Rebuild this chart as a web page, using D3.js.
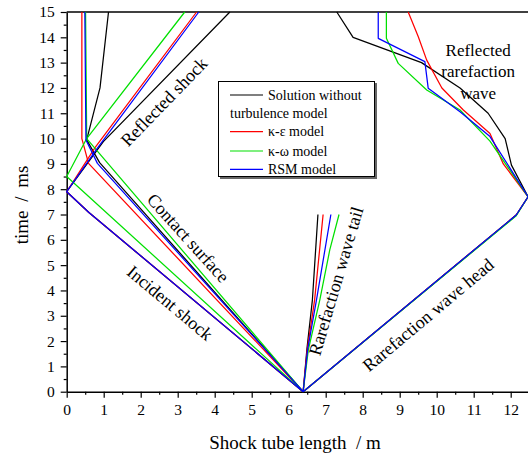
<!DOCTYPE html>
<html>
<head>
<meta charset="utf-8">
<script src="https://cdn.jsdelivr.net/npm/d3@7/dist/d3.min.js"></script>
<style>
  html, body { margin: 0; padding: 0; background: #fff; }
  svg { display: block; }
  svg text { font-family: "Liberation Serif", "Times New Roman", "DejaVu Serif", serif; fill: #000; }
</style>
</head>
<body>
<svg id="chart" width="528" height="455"></svg>
<script>
// Wave diagram (x–t) of a shock tube: position in m, time in ms.
const seriesNames = ["Solution without turbulence model", "κ-ε model", "κ-ω model", "RSM model"];
const seriesColors = ["#000000", "#ff0000", "#00e000", "#0000ff"];

// Incident shock followed by the reflected shock, [x, t]
const shockNone = [[6.39, 0], [0.6, 7.08], [0, 7.9], [0.99, 9.88], [4.41, 15]];
const shockKE   = [[6.39, 0], [0.6, 7.08], [0, 7.9], [0.77, 9.65], [3.51, 15]];
const shockKW   = [[6.39, 0], [0, 8.5], [0.54, 10.0], [3.19, 15]];
const shockRSM  = [[6.39, 0], [0.6, 7.08], [0, 7.9], [0.83, 9.62], [3.57, 15]];

// Contact surface
const contactNone = [[6.39, 0], [0.89, 9.05], [0.54, 9.95], [0.90, 12], [1.13, 15]];
const contactKE   = [[6.39, 0], [0.59, 9.02], [0.41, 10.0], [0.41, 15]];
const contactKW   = [[6.39, 0], [0.54, 10.0], [0.51, 15]];
const contactRSM  = [[6.39, 0], [0.83, 9.02], [0.52, 9.94], [0.49, 15]];

// Rarefaction wave head and its reflection from the end wall
const rareNone = [[6.39, 0], [12.15, 6.98], [12.47, 7.7], [12.02, 8.95], [11.85, 10.0], [11.39, 11.0],
                  [10.63, 12.0], [9.59, 13.0], [7.74, 14.0], [7.30, 15]];
const rareKE   = [[6.39, 0], [12.15, 6.98], [12.47, 7.7], [11.80, 9.0], [11.44, 10.2], [10.72, 11.13],
                  [10.14, 12.0], [9.73, 13.1], [9.50, 14.03], [9.23, 15]];
const rareKW   = [[6.39, 0], [12.15, 6.95], [12.47, 7.7], [11.44, 9.9], [10.63, 11.13], [9.73, 11.92],
                  [8.96, 12.97], [8.64, 13.96], [8.64, 15]];
const rareRSM  = [[6.39, 0], [12.15, 6.98], [12.47, 7.7], [11.44, 10.08], [10.63, 11.06], [9.77, 11.99],
                  [9.68, 13.04], [8.42, 13.96], [8.42, 15]];

// Rarefaction wave tail
const tailNone = [[6.39, 0], [6.49, 1.65], [6.64, 3.62], [6.79, 7]];
const tailKE   = [[6.39, 0], [6.50, 1.65], [6.70, 3.62], [6.93, 7]];
const tailKW   = [[6.39, 0], [6.53, 1.65], [6.84, 3.62], [7.11, 5.6], [7.36, 7]];
const tailRSM  = [[6.39, 0], [6.51, 1.65], [6.75, 3.62], [7.14, 7]];

const xMajorTicks = d3.range(0, 13, 1);
const xMinorTicks = d3.range(0.5, 12.5, 1);
const yMajorTicks = d3.range(0, 16, 1);
const yMinorTicks = d3.range(0.5, 15, 1);

const seriesPaths = [
  [shockNone, contactNone, rareNone, tailNone],
  [shockKE, contactKE, rareKE, tailKE],
  [shockKW, contactKW, rareKW, tailKW],
  [shockRSM, contactRSM, rareRSM, tailRSM]
];

const FONT = "Liberation Serif, Times New Roman, DejaVu Serif, serif";
const svg = d3.select("#chart");
const x = d3.scaleLinear().domain([0, 12.5]).range([66.7, 529.2]);
const y = d3.scaleLinear().domain([0, 15]).range([391.7, 12]);

// Axes
const gx = svg.append("g").attr("transform", `translate(0,${y(0)})`);
gx.call(d3.axisBottom(x).tickValues(xMajorTicks).tickSize(6).tickSizeOuter(0).tickPadding(6).tickFormat(d3.format("d")));
const gxm = svg.append("g").attr("transform", `translate(0,${y(0)})`);
gxm.call(d3.axisBottom(x).tickValues(xMinorTicks).tickSize(3).tickSizeOuter(0).tickFormat(""));
gxm.select(".domain").remove();

const gy = svg.append("g").attr("transform", `translate(${x(0)},0)`);
gy.call(d3.axisLeft(y).tickValues(yMajorTicks).tickSize(6).tickSizeOuter(0).tickPadding(6).tickFormat(d3.format("d")));
const gym = svg.append("g").attr("transform", `translate(${x(0)},0)`);
gym.call(d3.axisLeft(y).tickValues(yMinorTicks).tickSize(3).tickSizeOuter(0).tickFormat(""));
gym.select(".domain").remove();

svg.selectAll("g").attr("font-family", FONT);
svg.selectAll(".domain").attr("stroke", "#000").attr("stroke-width", 1.5);
svg.selectAll(".tick line").attr("stroke", "#000").attr("stroke-width", 1.2);
svg.selectAll(".tick text").attr("font-family", FONT).attr("font-size", 15.5).attr("fill", "#000");

// Top frame
svg.append("line")
  .attr("x1", x(0)).attr("x2", x(12.5)).attr("y1", y(15)).attr("y2", y(15))
  .attr("stroke", "#000").attr("stroke-width", 1.5);

// Wave lines
const line = d3.line().x(d => x(d[0])).y(d => y(d[1]));
seriesPaths.forEach((paths, i) => {
  svg.append("g").selectAll("path").data(paths).join("path")
    .attr("d", line)
    .attr("fill", "none")
    .attr("stroke", seriesColors[i])
    .attr("stroke-width", 1.25)
    .attr("stroke-linejoin", "round");
});

// Axis titles
svg.append("text")
  .attr("x", 295).attr("y", 442)
  .attr("text-anchor", "middle").attr("dominant-baseline", "central")
  .attr("font-family", FONT).attr("font-size", 19).style("white-space", "pre")
  .text("Shock tube length  / m");
svg.append("text")
  .attr("transform", "translate(21,205) rotate(-90)")
  .attr("text-anchor", "middle").attr("dominant-baseline", "central")
  .attr("font-family", FONT).attr("font-size", 19).style("word-spacing", "4px")
  .text("time / ms");

// Wave annotations
const annotations = [
  { text: "Reflected shock", x: 2.63, t: 11.45, angle: -46 },
  { text: "Contact surface", x: 3.28, t: 6.07, angle: 48 },
  { text: "Incident shock", x: 2.79, t: 3.5, angle: 40 },
  { text: "Rarefaction wave tail", x: 7.28, t: 4.37, angle: -73.5 },
  { text: "Rarefaction wave head", x: 9.77, t: 3.03, angle: -40 }
];
annotations.forEach(a => {
  svg.append("text")
    .attr("transform", `translate(${x(a.x)},${y(a.t)}) rotate(${a.angle})`)
    .attr("text-anchor", "middle").attr("dominant-baseline", "central")
    .attr("font-family", FONT).attr("font-size", 18)
    .text(a.text);
});
["Reflected", "rarefaction", "wave"].forEach((s, i) => {
  svg.append("text")
    .attr("x", x(11.12)).attr("y", y(13.49) + i * 21.5)
    .attr("text-anchor", "middle").attr("dominant-baseline", "central")
    .attr("font-family", FONT).attr("font-size", 17)
    .text(s);
});

// Legend
const lg = svg.append("g");
lg.append("rect").attr("x", 220).attr("y", 83).attr("width", 157).attr("height", 96).attr("fill", "#666");
lg.append("rect").attr("x", 218.5).attr("y", 81.5).attr("width", 156).attr("height", 95)
  .attr("fill", "#fff").attr("stroke", "#000").attr("stroke-width", 1);
const legendRows = [95, 131.7, 151, 169.3];
seriesNames.forEach((name, i) => {
  const ly = legendRows[i];
  lg.append("line").attr("x1", 230).attr("x2", 263).attr("y1", ly).attr("y2", ly)
    .attr("stroke", seriesColors[i]).attr("stroke-width", 1.2);
  if (i === 0) {
    lg.append("text").attr("x", 268).attr("y", ly).attr("dominant-baseline", "central")
      .attr("font-family", FONT).attr("font-size", 14).text("Solution without");
    lg.append("text").attr("x", 230).attr("y", 113.3).attr("dominant-baseline", "central")
      .attr("font-family", FONT).attr("font-size", 14).text("turbulence model");
  } else {
    lg.append("text").attr("x", 268).attr("y", ly).attr("dominant-baseline", "central")
      .attr("font-family", FONT).attr("font-size", 14).text(name);
  }
});
</script>
</body>
</html>
